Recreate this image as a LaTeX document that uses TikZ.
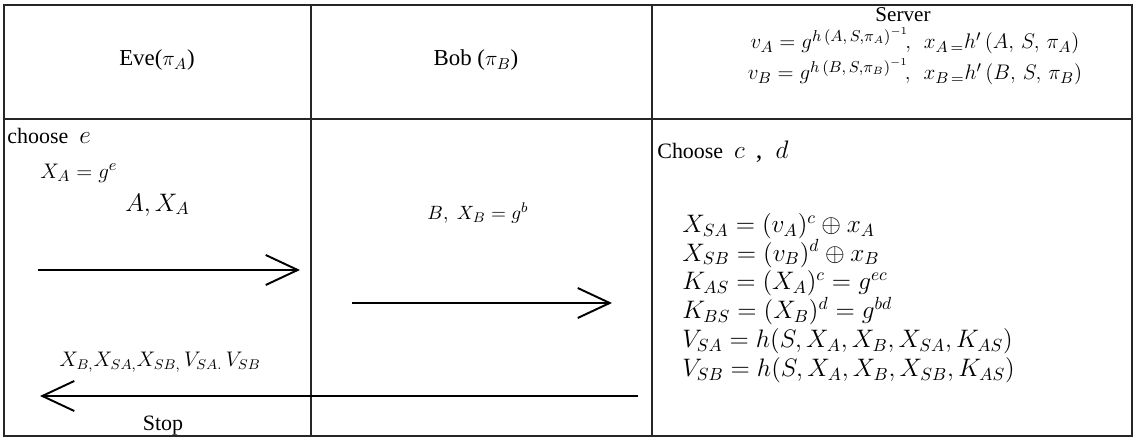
\documentclass[tikz,border=0pt]{standalone}
\usepackage{fontspec}
\setmainfont{Liberation Serif}
\usetikzlibrary{arrows.meta}

\begin{document}
\begin{tikzpicture}[
    x=0.02cm, y=-0.02cm,
    grid/.style={draw=black!85, line width=0.6pt},
    msg/.style={line width=1.1pt,
                -{Straight Barb[length=0.64cm, width=0.6cm, line width=1.1pt]}},
    lbl/.style={inner sep=0pt, font=\fontsize{12.5}{15}\selectfont},
    eqn/.style={inner sep=0pt, font=\fontsize{13}{16}\selectfont}
  ]
    \useasboundingbox (0,0) rectangle (1136,438);

    % table
    \draw[grid] (4,5) rectangle (1132,436);
    \draw[grid] (311,5) -- (311,436);
    \draw[grid] (652,5) -- (652,436);
    \draw[grid] (4,119) -- (1132,119);

    % headers
    \node[lbl, font=\fontsize{13}{15}\selectfont] (eve) at (157,60) {Eve($\pi_{A}$)};
    \node[lbl, font=\fontsize{13}{15}\selectfont] (bob) at (476,60) {Bob ($\pi_{B}$)};
    \node[lbl, font=\fontsize{12}{14}\selectfont] (srv) at (903,15) {Server};
    \node[eqn] (va) at (915,41)
      {$v_{A} = g^{h\,(A,\,S,\pi_{A})^{-1}}\!,\;\, x_{A\,=}h'\,(A,\,S,\,\pi_{A})$};
    \node[eqn] (vb) at (915,72)
      {$v_{B} = g^{h\,(B,\,S,\pi_{B})^{-1}}\!,\;\, x_{B\,=}h'\,(B,\,S,\,\pi_{B})$};

    % Eve
    \node[lbl, anchor=west] (che) at (7,136)
      {choose \ {\fontsize{15}{17}\selectfont$e$}};
    \node[eqn, anchor=west] (xa) at (40,173) {$X_{A} = g^{e}$};
    \node[eqn, anchor=west, font=\fontsize{14}{16}\selectfont] (ax) at (125,205) {$A, X_{A}$};
    \node[lbl, font=\fontsize{11.5}{13}\selectfont] (ret) at (160,362)
      {$X_{B,}X_{SA,}X_{SB,}\,V_{SA.}\,V_{SB}$};
    \node[lbl] (stop) at (163,426) {Stop};

    % Bob
    \node[lbl, font=\fontsize{11}{13}\selectfont] (bx) at (478,213) {$B,\; X_{B} = g^{b}$};

    % Server
    \node[lbl, anchor=west] (chs) at (657,152)
      {Choose \ {\fontsize{15}{17}\selectfont$c$ \,, \ $d$}};
    \node[eqn, anchor=west, align=left, font=\fontsize{14}{16.4}\selectfont] (calc) at (682,298)
      {$X_{SA} = (v_{A})^{c}\oplus x_{A}$\\
       $X_{SB} = (v_{B})^{d}\oplus x_{B}$\\
       $K_{AS} = (X_{A})^{c} = g^{ec}$\\
       $K_{BS} = (X_{B})^{d} = g^{bd}$\\
       $V_{SA} = h(S,X_{A},X_{B},X_{SA},K_{AS})$\\
       $V_{SB} = h(S,X_{A},X_{B},X_{SB},K_{AS})$};

    % messages
    \coordinate (a1s) at (38,270);
    \coordinate (a1e) at (300,270);
    \coordinate (a2s) at (352,303);
    \coordinate (a2e) at (612,303);
    \coordinate (a3s) at (638,396);
    \coordinate (a3e) at (40,396);
    \draw[msg] (a1s) -- (a1e);
    \draw[msg] (a2s) -- (a2e);
    \draw[msg] (a3s) -- (a3e);
\end{tikzpicture}
\end{document}
